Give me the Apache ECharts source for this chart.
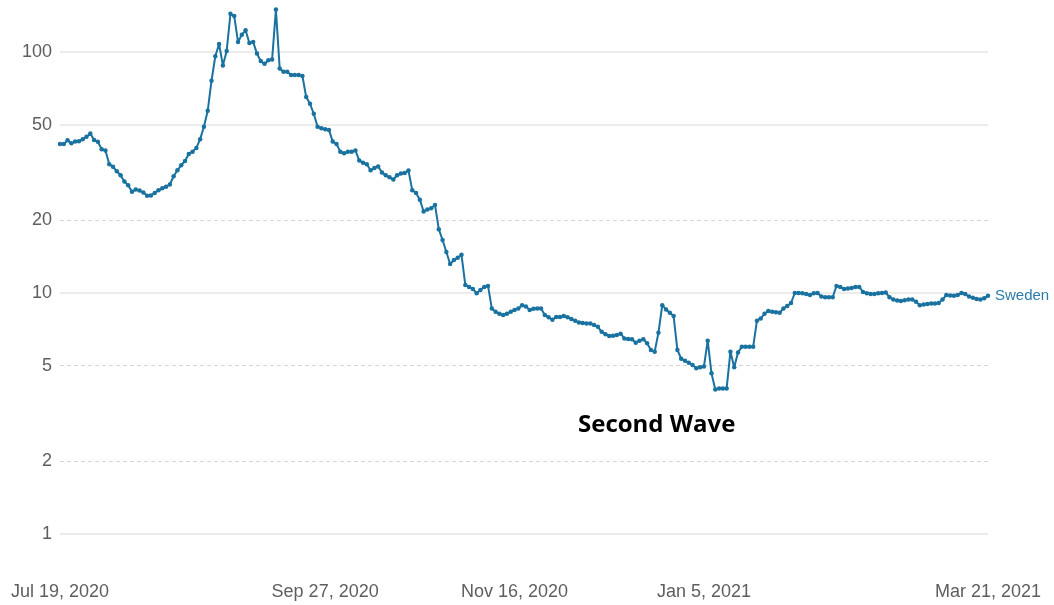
<!DOCTYPE html>
<html>
<head>
<meta charset="utf-8">
<script src="https://cdn.jsdelivr.net/npm/echarts@6/dist/echarts.min.js"></script>
<style>
  html, body { margin: 0; padding: 0; background: #ffffff; }
  #chart { width: 1054px; height: 605px; }
</style>
</head>
<body>
<div id="chart"></div>
<script>
// Daily values for Sweden, 19 Jul 2020 – 21 Mar 2021, grouped by month
const jul2020 = [41.5, 41.5, 43.0, 41.8, 42.5, 42.6, 43.5, 44.5, 45.9, 43.1, 42.4, 39.5, 39.0];
const aug2020 = [34.2, 33.4, 32.0, 30.8, 29.0, 28.0, 26.3, 26.9, 26.6, 26.1, 25.3, 25.4, 26.0, 26.7, 27.2, 27.6,
                 28.2, 30.5, 32.3, 33.9, 35.3, 37.7, 38.6, 40.0, 43.5, 49.0, 57.0, 76.0, 96.0, 108, 88];
const sep2020 = [101, 144, 141, 110, 118, 123, 109, 110, 98.5, 91.7, 89.3, 92.4, 93.0, 150, 85.5, 82.8,
                 82.8, 80.3, 80.3, 80.3, 79.5, 65, 61, 55.4, 49, 48.3, 47.8, 47.5, 42.5, 41.5];
const oct2020 = [38.6, 38, 38.6, 38.6, 39, 35.5, 34.7, 34.2, 32.3, 33, 33.5, 31.6, 30.8, 30.2, 29.6, 30.8,
                 31.3, 31.5, 32.2, 26.7, 26.0, 24.4, 21.8, 22.2, 22.5, 23.2, 18.4, 16.6, 14.8, 13.2, 13.7];
const nov2020 = [14.0, 14.4, 10.8, 10.6, 10.4, 9.97, 10.3, 10.6, 10.7, 8.63, 8.36, 8.2, 8.11, 8.2, 8.36,
                 8.5, 8.63, 8.9, 8.8, 8.5, 8.6, 8.63, 8.63, 8.11, 7.94, 7.74, 7.96, 7.96, 8.02, 7.94];
const dec2020 = [7.8, 7.68, 7.55, 7.5, 7.48, 7.48, 7.36, 7.24, 6.9, 6.75, 6.63, 6.65, 6.69, 6.78, 6.48, 6.45,
                 6.43, 6.22, 6.34, 6.43, 6.19, 5.8, 5.71, 6.84, 8.9, 8.55, 8.28, 8.02, 5.8, 5.34, 5.23];
const jan2021 = [5.14, 5.03, 4.87, 4.92, 4.95, 6.34, 4.64, 3.98, 4.02, 4.02, 4.02, 5.71, 4.92, 5.66, 5.98,
                 5.98, 5.98, 5.98, 7.68, 7.84, 8.2, 8.43, 8.36, 8.32, 8.28, 8.63, 8.83, 9.1, 10.0, 10.0, 9.97];
const feb2021 = [9.9, 9.8, 9.97, 10.0, 9.67, 9.6, 9.6, 9.6, 10.7, 10.6, 10.4, 10.45, 10.5, 10.6, 10.6, 10.1,
                 9.97, 9.9, 9.9, 9.97, 10.0, 10.05, 9.6, 9.4, 9.3, 9.27, 9.33, 9.39];
const mar2021 = [9.39, 9.2, 8.9, 8.97, 9.0, 9.04, 9.04, 9.1, 9.4, 9.8, 9.76, 9.74, 9.8, 10.0, 9.9, 9.67,
                 9.55, 9.45, 9.39, 9.52, 9.74];

const seriesName = 'Sweden';
const startDate = '2020-07-19';
const tickDates = ['2020-07-19', '2020-09-27', '2020-11-16', '2021-01-05', '2021-03-21'];
const gridValues = [1, 2, 5, 10, 20, 50, 100];
const dashedGridValues = [2, 5, 20];
const annotationText = 'Second Wave';

const values = [].concat(jul2020, aug2020, sep2020, oct2020, nov2020, dec2020, jan2021, feb2021, mar2021);

// One category per day
const MONTHS = ['Jan','Feb','Mar','Apr','May','Jun','Jul','Aug','Sep','Oct','Nov','Dec'];
const t0 = Date.parse(startDate + 'T00:00:00Z');
const dates = values.map((_, i) => new Date(t0 + i * 86400000).toISOString().slice(0, 10));
const tickIndex = new Set(tickDates.map(d => dates.indexOf(d)));
function formatDate(iso) {
  const [y, m, d] = iso.split('-').map(Number);
  return MONTHS[m - 1] + ' ' + d + ', ' + y;
}

const LINE_COLOR = '#19729f';
const LABEL_FONT = '"Liberation Sans", Arial, sans-serif';

const chart = echarts.init(document.getElementById('chart'), null, { renderer: 'canvas' });
chart.setOption({
  animation: false,
  backgroundColor: '#ffffff',
  grid: { left: 60, right: 66, top: 6, bottom: 29, containLabel: false },
  xAxis: {
    type: 'category',
    data: dates,
    boundaryGap: false,
    axisLine: { show: false },
    axisTick: { show: false },
    splitLine: { show: false },
    axisLabel: {
      interval: (idx) => tickIndex.has(idx),
      formatter: formatDate,
      color: '#5e5e5e',
      fontSize: 18,
      fontFamily: LABEL_FONT,
      margin: 7,
      hideOverlap: false
    }
  },
  yAxis: {
    type: 'log',
    logBase: 10,
    min: 0.6695,
    max: 155.2,
    axisLine: { show: false },
    axisTick: { show: false },
    axisLabel: { show: false },
    splitLine: { show: false }
  },
  graphic: [{
    type: 'text',
    left: 578,
    top: 413,
    silent: true,
    style: {
      text: annotationText,
      fill: '#000000',
      font: 'bold 24px "Open Sans", "Noto Sans", sans-serif'
    }
  }],
  series: [
    {
      // horizontal gridlines with their value labels (1, 2, 5, 10, 20, 50, 100)
      name: 'grid',
      type: 'line',
      data: [],
      silent: true,
      z: 1,
      markLine: {
        silent: true,
        symbol: 'none',
        animation: false,
        z: 1,
        data: gridValues.map(v => ({
          yAxis: v,
          lineStyle: {
            color: dashedGridValues.includes(v) ? '#d6d6d6' : '#e6e6e6',
            width: dashedGridValues.includes(v) ? 1 : 1.5,
            type: dashedGridValues.includes(v) ? [4, 3] : 'solid'
          },
          label: {
            show: true,
            position: 'start',
            distance: 8,
            formatter: String(v),
            color: '#5e5e5e',
            fontSize: 18,
            fontFamily: LABEL_FONT
          }
        }))
      }
    },
    {
      name: seriesName,
      type: 'line',
      data: values,
      showSymbol: true,
      showAllSymbol: true,
      symbol: 'circle',
      symbolSize: 4.5,
      lineStyle: { color: LINE_COLOR, width: 2 },
      itemStyle: { color: LINE_COLOR },
      endLabel: {
        show: true,
        formatter: seriesName,
        color: '#2b7cab',
        fontSize: 15,
        fontFamily: LABEL_FONT,
        distance: 7
      },
      z: 3
    }
  ]
});
</script>
</body>
</html>
